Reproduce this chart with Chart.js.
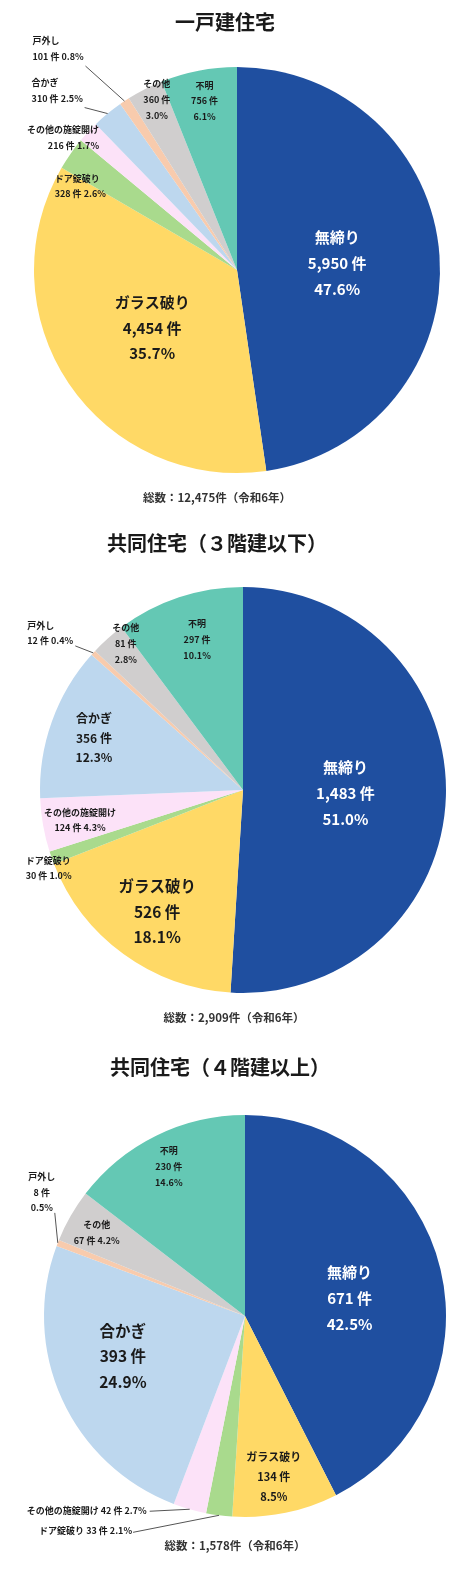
<!DOCTYPE html>
<html lang="ja">
<head>
<meta charset="utf-8">
<title>侵入窃盗の手口</title>
<script src="https://cdn.jsdelivr.net/npm/chart.js@4.4.1/dist/chart.umd.min.js"></script>
<style>
  body { margin: 0; background: #fff; }
  canvas { display: block; }
</style>
</head>
<body>
<canvas id="detached" width="470" height="520"></canvas>
<canvas id="lowRise" width="470" height="520"></canvas>
<canvas id="highRise" width="470" height="532"></canvas>
<script>
// 侵入手口（令和6年）
const categories = ['無締り', 'ガラス破り', 'ドア錠破り', 'その他の施錠開け', '合かぎ', '戸外し', 'その他', '不明'];
const sliceColors = ['#1f4fa0', '#ffd966', '#a9da8d', '#fce2f8', '#bdd7ee', '#f8cbad', '#d0cece', '#64c8b4'];

const detachedCounts = [5950, 4454, 328, 216, 310, 101, 360, 756];
const detachedPercents = [47.6, 35.7, 2.6, 1.7, 2.5, 0.8, 3.0, 6.1];

const lowRiseCounts = [1483, 526, 30, 124, 356, 12, 81, 297];
const lowRisePercents = [51.0, 18.1, 1.0, 4.3, 12.3, 0.4, 2.8, 10.1];

const highRiseCounts = [671, 134, 33, 42, 393, 8, 67, 230];
const highRisePercents = [42.5, 8.5, 2.1, 2.7, 24.9, 0.5, 4.2, 14.6];

const FONT = '"Noto Sans CJK JP", "Noto Sans", sans-serif';
const INK = '#1a1a1a';

// label placement: point on mid-angle at k * radius, then shifted by dx/dy
const detachedLabels = [
    { k: 0.49, dx: 1, dy: 0, size: 15, lh: 26, fmt: 3, color: '#fff' },
    { k: 0.51, dx: 1, dy: 0, size: 15, lh: 25.5, fmt: 3 },
    { k: 1, dx: -16, dy: 32, size: 9, lh: 15, fmt: 2, align: 'left' },
    { k: 1, dx: 11, dy: 6, size: 9, lh: 16, fmt: 2, align: 'right' },
    { k: 1, dx: -76, dy: -23, size: 9, lh: 16, fmt: 2, align: 'left', leader: [-23, -6] },
    { k: 1, dx: -92, dy: -52, size: 9, lh: 16, fmt: 2, align: 'left', leader: [-39, -35] },
    { k: 1, dx: 12, dy: 10, size: 9, lh: 16, fmt: 3 },
    { k: 1, dx: 6, dy: 30, size: 9, lh: 15.5, fmt: 3 }
];
const lowRiseLabels = [
    { k: 0.5, dx: 1, dy: 0, size: 15, lh: 26, fmt: 3, color: '#fff' },
    { k: 0.735, dx: 2, dy: 1.5, size: 15.5, lh: 25.5, fmt: 3 },
    { k: 1, dx: -26, dy: 10, size: 9, lh: 15, fmt: 2, align: 'left' },
    { k: 0.8, dx: -3, dy: 1.5, size: 9, lh: 15, fmt: 2 },
    { k: 0.78, dx: 0, dy: 1.5, size: 12, lh: 19.5, fmt: 3 },
    { k: 1, dx: -66, dy: -19.5, size: 9, lh: 15, fmt: 2, align: 'left', leader: [-18, -7] },
    { k: 1, dx: 18, dy: 5, size: 9, lh: 16, fmt: 3 },
    { k: 0.78, dx: 4, dy: 0, size: 9, lh: 16, fmt: 3 }
];
const highRiseLabels = [
    { k: 0.53, dx: 1, dy: 7, size: 15, lh: 26, fmt: 3, color: '#fff' },
    { k: 0.81, dx: -4, dy: 1.5, size: 11, lh: 20, fmt: 3 },
    { k: 1, dx: -87, dy: 15, size: 9, fmt: 1, align: 'right', leader: [-86, 17] },
    { k: 1, dx: -43, dy: 1, size: 9, fmt: 1, align: 'right', leader: [-40, 2] },
    { k: 0.64, dx: -5, dy: -13, size: 15.5, lh: 25.5, fmt: 3 },
    { k: 1, dx: -16, dy: -50.5, size: 9, lh: 15.5, fmt: 3, leader: [-3, -30] },
    { k: 1, dx: 26, dy: 17, size: 9, lh: 16, fmt: 2 },
    { k: 0.835, dx: -2, dy: 1, size: 9, lh: 16, fmt: 3 }
];

function labelLines(name, count, pct, fmt) {
    const n = count.toLocaleString('en-US') + ' 件';
    const p = pct.toFixed(1) + '%';
    if (fmt === 3) return [name, n, p];
    if (fmt === 2) return [name, n + ' ' + p];
    return [name + ' ' + n + ' ' + p];
}

function makePlugin(title, titlePos, footPos, labels, percents) {
    return {
        id: 'pieText',
        afterDatasetsDraw(chart) {
            const ctx = chart.ctx;
            const meta = chart.getDatasetMeta(0);
            const counts = chart.data.datasets[0].data;
            ctx.save();
            meta.data.forEach((arc, i) => {
                const L = labels[i];
                const p = arc.getProps(['x', 'y', 'startAngle', 'endAngle', 'outerRadius'], true);
                const mid = (p.startAngle + p.endAngle) / 2;
                const ex = p.x + Math.cos(mid) * p.outerRadius;
                const ey = p.y + Math.sin(mid) * p.outerRadius;
                if (L.leader) {
                    ctx.strokeStyle = '#555';
                    ctx.lineWidth = 1;
                    ctx.beginPath();
                    ctx.moveTo(ex, ey);
                    ctx.lineTo(ex + L.leader[0], ey + L.leader[1]);
                    ctx.stroke();
                }
                const ax = p.x + Math.cos(mid) * p.outerRadius * L.k + L.dx;
                const ay = p.y + Math.sin(mid) * p.outerRadius * L.k + L.dy;
                const lines = labelLines(chart.data.labels[i], counts[i], percents[i], L.fmt);
                const lh = L.lh || 15;
                ctx.font = `bold ${L.size}px ${FONT}`;
                ctx.fillStyle = L.color || INK;
                ctx.textAlign = L.align || 'center';
                ctx.textBaseline = 'middle';
                lines.forEach((t, j) => {
                    ctx.fillText(t, ax, ay + (j - (lines.length - 1) / 2) * lh);
                });
            });

            // title and total
            const total = counts.reduce((a, b) => a + b, 0);
            ctx.fillStyle = INK;
            ctx.textAlign = 'center';
            ctx.textBaseline = 'middle';
            ctx.font = `bold 20px ${FONT}`;
            ctx.fillText(title, titlePos[0], titlePos[1]);
            ctx.font = `bold 11.5px ${FONT}`;
            ctx.fillStyle = '#333';
            ctx.fillText(`総数：${total.toLocaleString('en-US')}件（令和6年）`, footPos[0], footPos[1]);
            ctx.restore();
        }
    };
}

function drawPie(id, title, counts, percents, labels, padding, titlePos, footPos) {
    new Chart(document.getElementById(id), {
        type: 'pie',
        data: {
            labels: categories,
            datasets: [{
                data: counts,
                backgroundColor: sliceColors,
                borderWidth: 0
            }]
        },
        options: {
            responsive: false,
            animation: false,
            layout: { padding: padding },
            plugins: {
                legend: { display: false },
                tooltip: { enabled: false }
            }
        },
        plugins: [makePlugin(title, titlePos, footPos, labels, percents)]
    });
}

drawPie('detached', '一戸建住宅', detachedCounts, detachedPercents, detachedLabels,
    { left: 34, right: 30, top: 67, bottom: 47 }, [225, 22], [217, 498]);
drawPie('lowRise', '共同住宅（３階建以下）', lowRiseCounts, lowRisePercents, lowRiseLabels,
    { left: 40, right: 24, top: 67, bottom: 47 }, [217, 23], [234, 498]);
drawPie('highRise', '共同住宅（４階建以上）', highRiseCounts, highRisePercents, highRiseLabels,
    { left: 44, right: 24, top: 75, bottom: 55 }, [220, 27], [235, 506]);
</script>
</body>
</html>
